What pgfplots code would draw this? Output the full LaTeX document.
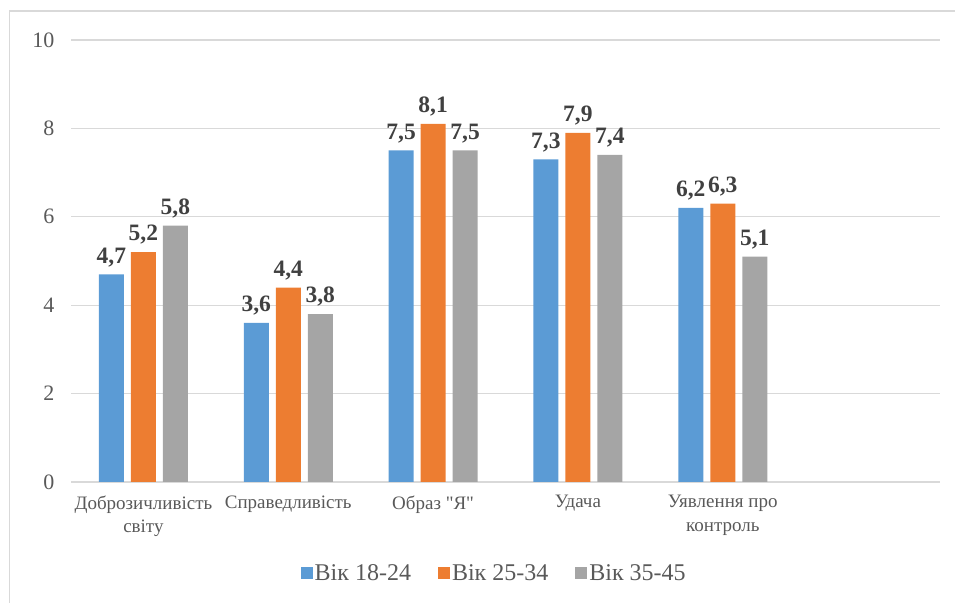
\documentclass[border=0pt]{standalone}
\usepackage{pgfplots}
\pgfplotsset{compat=1.18}
\usepackage{fontspec}
\setmainfont{Liberation Serif}[Ligatures=TeXOff]

\definecolor{cBlue}{HTML}{5B9BD5}
\definecolor{cOrange}{HTML}{ED7D31}
\definecolor{cGray}{HTML}{A5A5A5}
\definecolor{gridgray}{HTML}{D9D9D9}
\definecolor{txtgray}{HTML}{595959}
\definecolor{lblgray}{HTML}{404040}

\begin{document}
\begin{tikzpicture}
% page extent and chart frame (right and bottom edges fall outside the page)
\useasboundingbox (0,0) rectangle (955bp,603bp);
\draw[gridgray, line width=1.2bp] (9.5bp,-5bp) rectangle (962bp,592bp);
\begin{axis}[
  at={(71bp,121bp)}, anchor=south west,
  scale only axis, width=869bp, height=442bp,
  xmin=-0.5, xmax=5.5, ymin=0, ymax=10,
  ytick={0,2,...,10},
  xtick={0,1,2,3,4},
  xticklabels={{Доброзичливість\\світу},{Справедливість},{Образ "Я"},{Удача},{Уявлення про\\контроль}},
  axis x line*=bottom, axis y line*=left,
  y axis line style={draw=none},
  x axis line style={gridgray, line width=1.2bp},
  ymajorgrids, grid style={gridgray, line width=1.2bp},
  major tick length=0pt,
  /pgf/number format/assume math mode=true,
  yticklabel style={font=\fontsize{22bp}{26bp}\selectfont, text=txtgray, xshift=-13bp},
  xticklabel style={font=\fontsize{19bp}{23.5bp}\selectfont, text=txtgray, align=center, yshift=-10bp},
  ybar, bar width=25bp,
  nodes near coords,
  nodes near coords style={font=\bfseries\fontsize{23.5bp}{27bp}\selectfont, text=lblgray, yshift=4bp,
    /pgf/number format/.cd, use comma, fixed, fixed zerofill, precision=1},
  legend style={at={(0.487,-0.206)}, anchor=center, draw=none, fill=none,
    legend columns=3, font=\fontsize{24bp}{28bp}\selectfont, text=txtgray,
    /tikz/every even column/.append style={column sep=25bp},
    inner sep=0pt},
  legend image code/.code={\fill[#1,draw=none] (0bp,-6bp) rectangle (12bp,6bp);},
]
\addplot[fill=cBlue, draw=none, bar shift=-32bp] coordinates {(0,4.7) (1,3.6) (2,7.5) (3,7.3) (4,6.2)};
\addplot[fill=cOrange, draw=none, bar shift=0bp] coordinates {(0,5.2) (1,4.4) (2,8.1) (3,7.9) (4,6.3)};
\addplot[fill=cGray, draw=none, bar shift=32bp] coordinates {(0,5.8) (1,3.8) (2,7.5) (3,7.4) (4,5.1)};
\legend{Вік 18-24, Вік 25-34, Вік 35-45}
\end{axis}
\end{tikzpicture}
\end{document}
